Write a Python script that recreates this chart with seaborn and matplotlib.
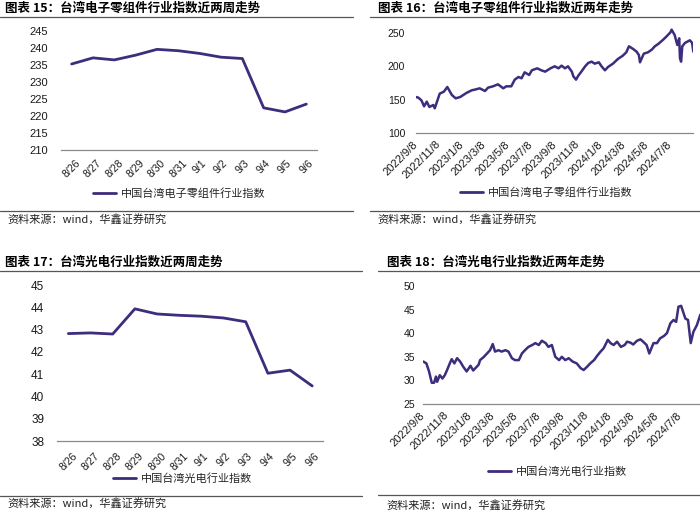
import numpy as np
import pandas as pd
import matplotlib
matplotlib.use("Agg")
import matplotlib.pyplot as plt
import seaborn as sns
from matplotlib.lines import Line2D

# ---------------- data ----------------
days_2w = ["8/26", "8/27", "8/28", "8/29", "8/30", "8/31", "9/1", "9/2", "9/3", "9/4", "9/5", "9/6"]
elec_2w = [235.3, 237.1, 236.5, 237.9, 239.6, 239.2, 238.4, 237.3, 236.9, 222.4, 221.2, 223.5]
opto_2w = [42.82, 42.85, 42.80, 43.93, 43.70, 43.64, 43.60, 43.52, 43.35, 41.04, 41.18, 40.47]

elec_2y_dates = [
    "2022-09-08", "2022-09-15", "2022-09-23", "2022-09-30", "2022-10-07", "2022-10-14",
    "2022-10-24", "2022-10-28", "2022-11-03", "2022-11-10", "2022-11-21", "2022-11-30",
    "2022-12-12", "2022-12-22", "2023-01-03", "2023-01-11", "2023-01-19", "2023-02-02",
    "2023-02-10", "2023-02-23", "2023-03-09", "2023-03-17", "2023-03-30", "2023-04-12",
    "2023-04-26", "2023-05-04", "2023-05-17", "2023-05-26", "2023-06-05", "2023-06-13",
    "2023-06-21", "2023-07-03", "2023-07-10", "2023-07-24", "2023-08-04", "2023-08-14",
    "2023-08-28", "2023-09-08", "2023-09-18", "2023-09-26", "2023-10-05", "2023-10-13",
    "2023-10-23", "2023-10-27", "2023-11-03", "2023-11-09", "2023-11-17", "2023-11-27",
    "2023-12-05", "2023-12-14", "2023-12-22", "2024-01-02", "2024-01-09", "2024-01-18",
    "2024-01-26", "2024-02-08", "2024-02-21", "2024-03-05", "2024-03-14", "2024-03-21",
    "2024-04-01", "2024-04-10", "2024-04-16", "2024-04-19", "2024-04-29", "2024-05-10",
    "2024-05-20", "2024-05-28", "2024-06-07", "2024-06-19", "2024-06-28", "2024-07-08",
    "2024-07-11", "2024-07-19", "2024-07-26", "2024-07-31", "2024-08-02", "2024-08-05",
    "2024-08-08", "2024-08-15", "2024-08-28", "2024-09-03", "2024-09-06",
]
elec_2y = [
    154, 153, 149, 140, 147, 139,
    142, 137, 147, 159, 162, 169,
    157, 152, 154, 157, 160, 164,
    165, 167, 163, 168, 170, 173,
    167, 170, 170, 180, 184, 182,
    191, 187, 194, 197, 194, 192,
    197, 200, 197, 201, 197, 200,
    192, 185, 180, 186, 192, 200,
    205, 207, 204, 206, 200, 194,
    199, 204, 211, 216, 221, 230,
    226, 222, 217, 206, 219, 221,
    225, 230, 234, 240, 245, 251,
    255, 247, 232, 242, 212, 207,
    230, 235, 239, 235, 222,
]

opto_2y_dates = [
    "2022-09-08", "2022-09-16", "2022-09-23", "2022-09-30", "2022-10-06", "2022-10-11",
    "2022-10-14", "2022-10-21", "2022-10-28", "2022-11-03", "2022-11-09", "2022-11-16",
    "2022-11-21", "2022-11-28", "2022-12-05", "2022-12-13", "2022-12-21", "2022-12-30",
    "2023-01-09", "2023-01-16", "2023-01-30", "2023-02-03", "2023-02-13", "2023-02-21",
    "2023-03-01", "2023-03-08", "2023-03-14", "2023-03-23", "2023-03-31", "2023-04-10",
    "2023-04-18", "2023-04-27", "2023-05-05", "2023-05-15", "2023-05-23", "2023-05-31",
    "2023-06-09", "2023-06-19", "2023-06-27", "2023-07-06", "2023-07-14", "2023-07-24",
    "2023-07-31", "2023-08-09", "2023-08-18", "2023-08-28", "2023-09-04", "2023-09-13",
    "2023-09-22", "2023-10-02", "2023-10-13", "2023-10-23", "2023-10-31", "2023-11-09",
    "2023-11-17", "2023-11-27", "2023-12-05", "2023-12-14", "2023-12-22", "2024-01-02",
    "2024-01-09", "2024-01-17", "2024-01-26", "2024-02-05", "2024-02-15", "2024-02-21",
    "2024-03-01", "2024-03-08", "2024-03-18", "2024-03-27", "2024-04-03", "2024-04-12",
    "2024-04-19", "2024-04-30", "2024-05-09", "2024-05-17", "2024-05-27", "2024-06-04",
    "2024-06-13", "2024-06-21", "2024-06-28", "2024-07-04", "2024-07-11", "2024-07-22",
    "2024-07-29", "2024-08-02", "2024-08-05", "2024-08-12", "2024-08-21", "2024-08-30",
    "2024-09-06",
]
opto_2y = [
    34.0, 33.6, 31.9, 29.5, 29.5, 30.8,
    29.7, 31.1, 30.4, 31.1, 32.2, 33.6,
    34.5, 33.6, 34.7, 34.0, 32.9, 31.9,
    33.1, 32.1, 33.3, 34.3, 35.0, 35.7,
    36.4, 37.7, 36.1, 36.4, 36.1, 36.4,
    36.1, 34.7, 34.3, 34.3, 35.7, 36.4,
    37.1, 37.5, 37.9, 37.5, 38.4, 37.9,
    37.1, 37.5, 35.0, 34.3, 35.0, 34.3,
    34.7, 34.0, 33.6, 32.6, 32.2, 32.9,
    33.6, 34.3, 35.2, 36.1, 36.8, 38.6,
    37.9, 37.5, 38.2, 37.1, 37.5, 38.2,
    38.0, 37.6, 38.4, 38.7, 38.2, 37.5,
    35.7, 37.9, 37.9, 38.9, 39.4, 40.0,
    42.1, 42.8, 42.4, 45.6, 45.8, 43.1,
    42.8, 40.0, 37.9, 40.3, 41.7, 43.9,
    44.3,
]

date_ticks = ["2022/9/8", "2022/11/8", "2023/1/8", "2023/3/8", "2023/5/8", "2023/7/8",
              "2023/9/8", "2023/11/8", "2024/1/8", "2024/3/8", "2024/5/8", "2024/7/8"]

titles = ["图表 15：台湾电子零组件行业指数近两周走势",
          "图表 16：台湾电子零组件行业指数近两年走势",
          "图表 17：台湾光电行业指数近两周走势",
          "图表 18：台湾光电行业指数近两年走势"]
legend_elec = "中国台湾电子零组件行业指数"
legend_opto = "中国台湾光电行业指数"
source = "资料来源：wind，华鑫证券研究"

# ---------------- style ----------------
sns.set_style("white")
plt.rcParams["font.family"] = ["Liberation Sans", "Noto Sans CJK SC", "DejaVu Sans"]
CJK = ["Noto Sans CJK SC", "DejaVu Sans"]
LINE = "#3E2C7C"
AXC = "#8a8a8a"
TXT = "#1a1a1a"

W, H = 700, 513
fig = plt.figure(figsize=(7, 5.13), dpi=100)


def fx(x):
    return x / W


def fy(y):
    return 1 - y / H


def make_axes(x0, x1, ytop, ybot):
    ax = fig.add_axes([fx(x0), fy(ybot), (x1 - x0) / W, (ybot - ytop) / H])
    for s in ("left", "top", "right"):
        ax.spines[s].set_visible(False)
    ax.spines["bottom"].set_color(AXC)
    ax.spines["bottom"].set_linewidth(0.9)
    ax.set_facecolor("none")
    ax.grid(False)
    return ax


def hrule(x0, x1, y, color="#555555", lw=0.9):
    fig.add_artist(Line2D([fx(x0), fx(x1)], [fy(y), fy(y)], transform=fig.transFigure,
                          color=color, lw=lw))


def legend(ax, x, y, label, lw):
    h = [Line2D([], [], color=LINE, lw=lw)]
    ax.legend(h, [label], loc="center left", bbox_to_anchor=(fx(x), fy(y)),
              bbox_transform=fig.transFigure, frameon=False, handlelength=2.1,
              handletextpad=0.45, borderpad=0, borderaxespad=0,
              prop={"family": CJK, "size": 8})


def category_axis(ax, cats, ylim, yticks, ysize, ypad, xsize, xpad):
    n = len(cats)
    ax.set_xlim(-0.5, n - 0.5)
    ax.set_xticks(np.arange(-0.5, n, 1.0))
    ax.set_xticklabels([])
    ax.set_xticks(np.arange(n), minor=True)
    ax.set_xticklabels(cats, minor=True, rotation=45, ha="center", va="top",
                       fontsize=xsize, color=TXT)
    ax.tick_params(axis="x", which="major", direction="in", length=3, width=0.9, color=AXC)
    ax.tick_params(axis="x", which="minor", length=0, pad=xpad)
    ax.set_ylim(*ylim)
    ax.set_yticks(yticks)
    ax.tick_params(axis="y", length=0, labelsize=ysize, pad=ypad, labelcolor=TXT)
    ax.set_xlabel("")
    ax.set_ylabel("")


def date_axis(ax, ylim, yticks, ysize, ypad):
    ax.set_xlim(pd.Timestamp("2022-09-08"), pd.Timestamp("2024-09-06"))
    ax.set_xticks(pd.to_datetime(date_ticks, format="%Y/%m/%d"))
    ax.set_xticklabels(date_ticks, rotation=45, ha="right", va="center",
                       rotation_mode="anchor", fontsize=8, color=TXT)
    ax.tick_params(axis="x", direction="out", length=3, width=0.9, color=AXC, pad=4)
    ax.set_ylim(*ylim)
    ax.set_yticks(yticks)
    ax.tick_params(axis="y", length=0, labelsize=ysize, pad=ypad, labelcolor=TXT)
    ax.set_xlabel("")
    ax.set_ylabel("")


# ---------------- panel 15 ----------------
ax1 = make_axes(61, 317, 31, 150)
df1 = pd.DataFrame({"pos": np.arange(len(days_2w)), "value": elec_2w})
sns.lineplot(data=df1, x="pos", y="value", ax=ax1, color=LINE, linewidth=2.0, sort=False)
category_axis(ax1, days_2w, (210, 245), np.arange(210, 246, 5), 8, 9.5, 7.5, 5.5)
legend(ax1, 93, 194, legend_elec, 2.0)

# ---------------- panel 16 ----------------
ax2 = make_axes(415.7, 693.3, 26.3, 133)
df2 = pd.DataFrame({"date": pd.to_datetime(elec_2y_dates), "value": elec_2y})
sns.lineplot(data=df2, x="date", y="value", ax=ax2, color=LINE, linewidth=1.8)
date_axis(ax2, (100, 260), [100, 150, 200, 250], 7.5, 7.5)
legend(ax2, 460, 193, legend_elec, 2.0)

# ---------------- panel 17 ----------------
ax3 = make_axes(57.3, 323.3, 285, 441)
df3 = pd.DataFrame({"pos": np.arange(len(days_2w)), "value": opto_2w})
sns.lineplot(data=df3, x="pos", y="value", ax=ax3, color=LINE, linewidth=2.0, sort=False)
category_axis(ax3, days_2w, (38, 45), np.arange(38, 46, 1), 8.5, 9.5, 7.5, 7)
legend(ax3, 113, 479, legend_opto, 2.0)

# ---------------- panel 18 ----------------
ax4 = make_axes(423.3, 703.0, 286, 404)
df4 = pd.DataFrame({"date": pd.to_datetime(opto_2y_dates), "value": opto_2y})
sns.lineplot(data=df4, x="date", y="value", ax=ax4, color=LINE, linewidth=1.8)
date_axis(ax4, (25, 50), [25, 30, 35, 40, 45, 50], 7.5, 6)
legend(ax4, 488, 472, legend_opto, 2.0)

# ---------------- titles, rules, sources ----------------
title_pos = [(5, 8), (378, 8), (5, 262), (387, 262)]
for (x, y), t in zip(title_pos, titles):
    fig.text(fx(x), fy(y), t, ha="left", va="center", fontsize=9, fontweight="bold",
             family=CJK, color="#000000")

hrule(0, 353, 16.5)
hrule(370, 700, 16.5)
hrule(0, 353, 210.5)
hrule(370, 700, 210.5)
hrule(0, 362, 270.5)
hrule(378, 700, 271)
hrule(0, 362, 496)
hrule(378, 700, 495)

source_pos = [(7, 219), (377, 219), (7, 503), (386, 505)]
for x, y in source_pos:
    fig.text(fx(x), fy(y), source, ha="left", va="center", fontsize=8, family=CJK,
             color="#222222")

fig.savefig("out.png", dpi=100)
